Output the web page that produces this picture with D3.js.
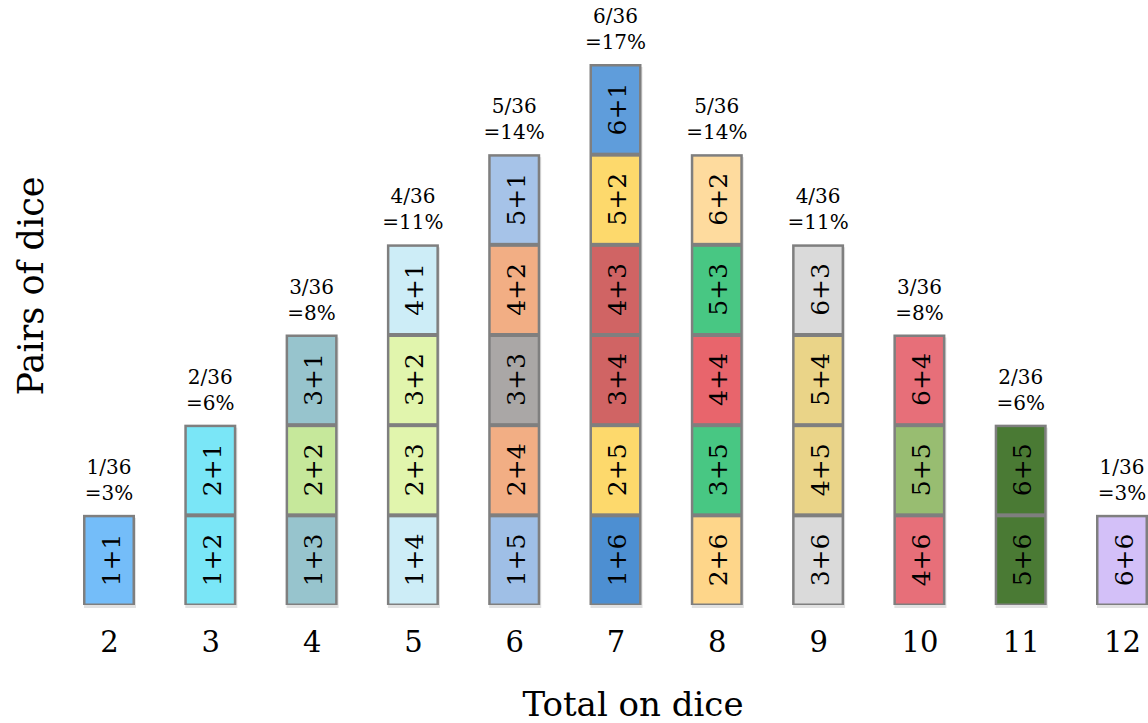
<!DOCTYPE html>
<html><head><meta charset="utf-8">
<script src="https://cdn.jsdelivr.net/npm/d3@7"></script>
<style>body{margin:0;background:#fff}svg{display:block}text{font-family:"DejaVu Serif","Liberation Serif",serif;fill:#000}</style>
</head><body><svg id="c" width="1148" height="723"></svg>
<script>
const totals = [2,3,4,5,6,7,8,9,10,11,12];
const fractions = ["1/36","2/36","3/36","4/36","5/36","6/36","5/36","4/36","3/36","2/36","1/36"];
const percents = ["=3%","=6%","=8%","=11%","=14%","=17%","=14%","=11%","=8%","=6%","=3%"];
// pairs per column, bottom to top
const pairs = [
  ["1+1"],
  ["1+2","2+1"],
  ["1+3","2+2","3+1"],
  ["1+4","2+3","3+2","4+1"],
  ["1+5","2+4","3+3","4+2","5+1"],
  ["1+6","2+5","3+4","4+3","5+2","6+1"],
  ["2+6","3+5","4+4","5+3","6+2"],
  ["3+6","4+5","5+4","6+3"],
  ["4+6","5+5","6+4"],
  ["5+6","6+5"],
  ["6+6"]
];
const pairColors = [
  ["#74bdf9"],
  ["#7ae6f7","#7ae6f7"],
  ["#97c4cd","#c6e89b","#97c4cd"],
  ["#cdedf7","#e1f5ad","#e1f5ad","#cdedf7"],
  ["#9fbfe6","#f2ae84","#aaa7a6","#f2ae84","#a6c3e8"],
  ["#4d8fd2","#fdd96c","#d06464","#d06464","#fdd96c","#5f9ddb"],
  ["#fed68a","#48c783","#e8656c","#48c783","#fedb9e"],
  ["#dadada","#ead488","#ead488","#dadada"],
  ["#e76f79","#98bd71","#e76f79"],
  ["#4a7a34","#4a7a34"],
  ["#d3c0f8"]
];
const xLabel = "Total on dice";
const yLabel = "Pairs of dice";

const svg = d3.select("#c");
const x = d3.scalePoint().domain(totals).range([109, 1122]);
const y = d3.scaleLinear().domain([0, 6]).range([605, 64]);
const bw = 52;

const cols = svg.selectAll("g.col").data(totals).join("g").attr("class","col")
  .attr("transform", d => `translate(${x(d)},0)`);

// shadow
cols.append("rect")
  .attr("x", -bw/2 + 1).attr("y", (d,i) => y(pairs[i].length) + 3)
  .attr("width", bw).attr("height", (d,i) => y(0) - y(pairs[i].length))
  .attr("fill", "#e2e2e2");
// outer frame
cols.append("rect")
  .attr("x", -bw/2).attr("y", (d,i) => y(pairs[i].length))
  .attr("width", bw).attr("height", (d,i) => y(0) - y(pairs[i].length))
  .attr("fill", "#7f7f7f");

cols.each(function(d, i) {
  const g = d3.select(this);
  const cells = pairs[i].map((p, j) => ({p, j, c: pairColors[i][j]}));
  const cg = g.selectAll("g.cell").data(cells).join("g").attr("class","cell");
  cg.append("rect")
    .attr("x", -bw/2 + 2.5)
    .attr("y", c => y(c.j + 1) + 2.5)
    .attr("width", bw - 5)
    .attr("height", c => y(c.j) - y(c.j + 1) - 4)
    .attr("fill", c => c.c);
  cg.append("text")
    .attr("transform", c => `translate(2,${(y(c.j) + y(c.j + 1)) / 2}) rotate(-90)`)
    .attr("text-anchor", "middle").attr("dominant-baseline", "central")
    .attr("font-size", 25)
    .attr("fill", "#000")
    .text(c => c.p);
});

// fraction labels
cols.append("text")
  .attr("y", (d,i) => y(pairs[i].length) - 41)
  .attr("text-anchor","middle").attr("font-size", 20)
  .text((d,i) => fractions[i]);
cols.append("text")
  .attr("y", (d,i) => y(pairs[i].length) - 15)
  .attr("text-anchor","middle").attr("font-size", 20)
  .text((d,i) => percents[i]);

// x axis ticks
const xAxis = d3.axisBottom(x).tickSize(0).tickPadding(0);
const ax = svg.append("g").attr("transform","translate(0,652)").call(xAxis);
ax.select(".domain").remove();
ax.selectAll("text").attr("font-size", 29).attr("font-family", '"DejaVu Serif",serif').attr("fill","#000").attr("dy", 0);

svg.append("text").attr("x", 633).attr("y", 716).attr("text-anchor","middle")
  .attr("font-size", 34).text(xLabel);
svg.append("text").attr("transform","translate(43,286) rotate(-90)").attr("text-anchor","middle")
  .attr("font-size", 35).text(yLabel);
</script></body></html>
